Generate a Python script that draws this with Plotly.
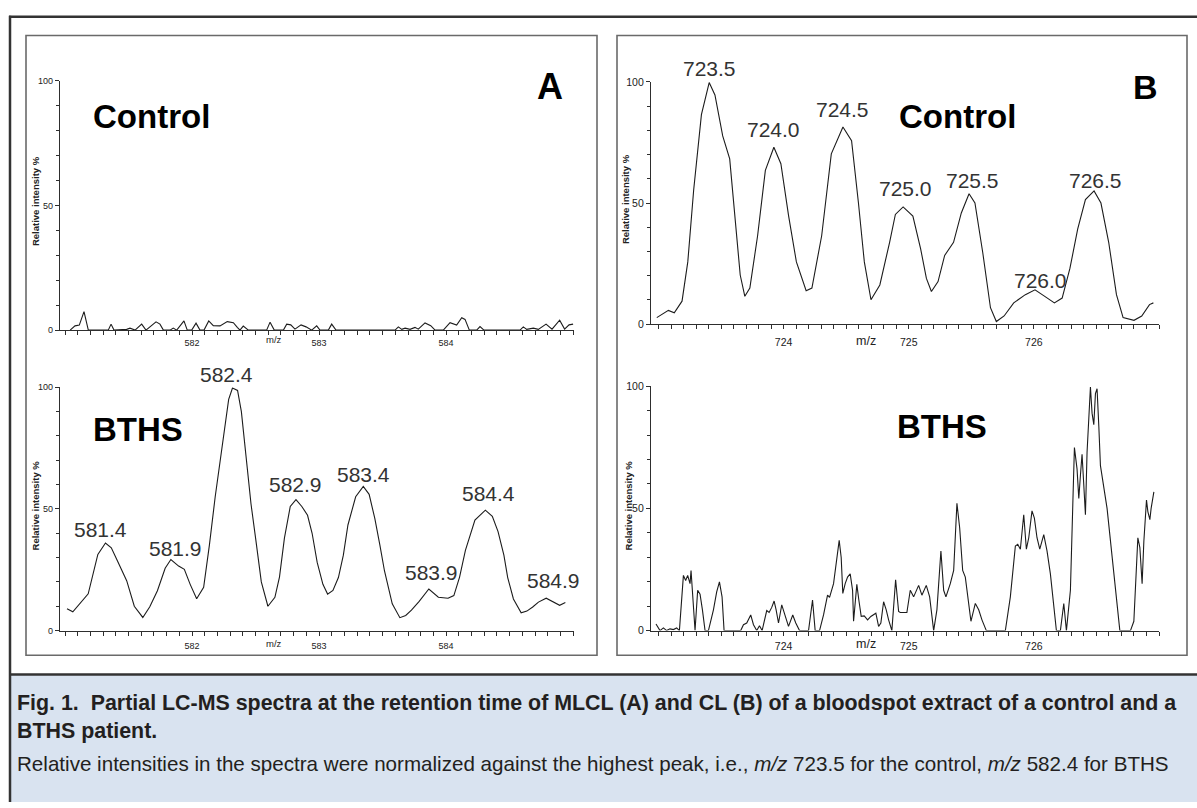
import plotly.graph_objects as go

W, H = 1197, 808

# ---- data ----
# panel A, control (MLCL), m/z and relative intensity %
a_ctrl_mz = [581.04, 581.078, 581.112, 581.149, 581.183, 581.340, 581.362, 581.385, 581.485, 581.511,
             581.551, 581.603, 581.637, 581.682, 581.716, 581.747, 581.774, 581.826, 581.852, 581.879,
             581.936, 581.962, 581.997, 582.031, 582.062, 582.094, 582.131, 582.167, 582.220, 582.277,
             582.325, 582.356, 582.377, 582.403, 582.443, 582.587, 582.614, 582.647, 582.719, 582.745,
             582.777, 582.810, 582.858, 582.897, 582.942, 582.981, 583.007, 583.073, 583.099, 583.133,
             583.598, 583.624, 583.651, 583.677, 583.716, 583.755, 583.781, 583.834, 583.879, 583.913,
             583.978, 584.031, 584.083, 584.123, 584.149, 584.183, 584.241, 584.267, 584.298, 584.582,
             584.608, 584.635, 584.687, 584.726, 584.787, 584.834, 584.894, 584.933, 584.968, 585.0]
a_ctrl_int = [0, 1.7, 2.0, 7.4, 0, 0, 2.4, 0, 0.3, 0.8,
              0, 2.4, 0, 1.7, 3.3, 2.4, 0, 0, 0.8, 0,
              3.7, 0, 0, 2.8, 0, 0, 3.7, 1.8, 1.7, 3.4,
              3.0, 1.1, 0, 1.6, 0, 0, 3.2, 0, 0, 2.4,
              2.1, 0.4, 2.1, 1.3, 0, 1.7, 0, 0, 2.4, 0,
              0, 1.3, 0.3, 0.8, 0.3, 1.1, 0.4, 2.9, 1.8, 0,
              0, 3.0, 2.0, 5.0, 4.3, 0, 0, 1.4, 0, 0,
              1.3, 0.3, 0.8, 0.3, 2.4, 0.4, 4.0, 0.4, 2.1, 2.4]

# panel A, BTHS
a_bths_mz = [581.015, 581.061, 581.182, 581.258, 581.318, 581.364, 581.409, 581.485, 581.545, 581.612,
             581.667, 581.727, 581.788, 581.833, 581.894, 581.939, 581.985, 582.036, 582.091, 582.136,
             582.182, 582.242, 582.288, 582.318, 582.358, 582.388, 582.424, 582.464, 582.500, 582.545,
             582.597, 582.652, 582.688, 582.727, 582.773, 582.818, 582.864, 582.909, 582.945, 582.985,
             583.030, 583.067, 583.109, 583.152, 583.191, 583.227, 583.288, 583.348, 583.394, 583.439,
             583.479, 583.515, 583.576, 583.636, 583.682, 583.727, 583.788, 583.864, 583.939, 584.015,
             584.061, 584.106, 584.152, 584.227, 584.309, 584.364, 584.409, 584.455, 584.485, 584.530,
             584.591, 584.636, 584.682, 584.727, 584.788, 584.833, 584.894, 584.939]
a_bths_int = [9.0, 7.7, 15.1, 31.3, 36.0, 34.0, 29.0, 20.5, 10.0, 5.4,
              9.8, 16.4, 25.6, 29.2, 26.5, 25.2, 19.0, 13.1, 17.8, 35.0,
              55.0, 78.0, 95.0, 99.7, 98.7, 90.0, 71.7, 52.0, 38.0, 20.0,
              10.0, 13.7, 22.0, 38.0, 51.0, 53.8, 51.0, 47.4, 40.0, 28.0,
              19.0, 15.0, 16.5, 21.8, 31.0, 43.4, 55.0, 59.2, 56.0, 46.0,
              35.0, 24.5, 11.0, 5.3, 6.2, 8.4, 12.0, 17.1, 13.7, 13.3,
              14.4, 22.0, 33.0, 45.4, 49.5, 47.0, 40.7, 31.0, 21.8, 13.0,
              7.3, 8.0, 9.7, 11.7, 13.3, 12.0, 10.4, 11.5]

# panel B, control (CL)
b_ctrl_mz = [722.986, 723.079, 723.126, 723.188, 723.234, 723.281, 723.343, 723.405, 723.451, 723.513,
             723.569, 723.612, 723.653, 723.690, 723.730, 723.792, 723.854, 723.922, 723.978, 724.040,
             724.102, 724.180, 724.226, 724.304, 724.381, 724.474, 724.543, 724.598, 724.645, 724.698,
             724.769, 724.847, 724.893, 724.955, 725.033, 725.095, 725.141, 725.181, 725.234, 725.287,
             725.358, 725.420, 725.482, 725.529, 725.591, 725.653, 725.700, 725.762, 725.839, 725.932,
             726.009, 726.087, 726.164, 726.226, 726.288, 726.350, 726.412, 726.481, 726.536, 726.598,
             726.660, 726.713, 726.800, 726.862, 726.924, 726.955]
b_ctrl_int = [2.7, 5.7, 4.7, 9.5, 25.7, 55.4, 86.5, 99.7, 94.6, 77.7,
              68.2, 44.6, 20.3, 11.5, 14.9, 36.5, 63.5, 73.0, 66.2, 44.6,
              25.7, 13.8, 14.9, 36.5, 70.3, 81.4, 75.7, 50.0, 25.7, 10.1,
              16.2, 33.8, 45.3, 48.4, 44.6, 31.1, 18.9, 13.5, 17.6, 28.4,
              33.8, 45.9, 53.8, 50.0, 29.7, 6.8, 1.1, 3.4, 8.8, 12.2,
              14.2, 11.5, 8.8, 10.8, 23.0, 39.2, 51.4, 55.0, 50.0, 33.8,
              12.2, 2.7, 1.6, 3.4, 8.1, 8.8]

# panel B, BTHS
b_bths_mz = [722.980, 723.012, 723.039, 723.065, 723.092, 723.119, 723.145, 723.167, 723.199, 723.217,
             723.233, 723.252, 723.260, 723.279, 723.292, 723.313, 723.332, 723.351, 723.372, 723.399,
             723.439, 723.465, 723.487, 723.508, 723.524, 723.657, 723.679, 723.705, 723.737, 723.759,
             723.785, 723.807, 723.828, 723.865, 723.884, 723.905, 723.924, 723.940, 723.959, 723.985,
             724.012, 724.039, 724.073, 724.097, 724.127, 724.199, 724.231, 724.252, 724.287, 724.319,
             724.351, 724.367, 724.399, 724.425, 724.444, 724.460, 724.473, 724.492, 724.511, 724.532,
             724.551, 724.559, 724.572, 724.585, 724.601, 724.620, 724.644, 724.671, 724.697, 724.737,
             724.759, 724.777, 724.799, 724.820, 724.839, 724.865, 724.895, 724.919, 724.932, 724.985,
             725.012, 725.039, 725.079, 725.105, 725.140, 725.167, 725.199, 725.225, 725.257, 725.279,
             725.297, 725.332, 725.359, 725.385, 725.407, 725.431, 725.452, 725.465, 725.497, 725.532,
             725.559, 725.585, 725.620, 725.772, 725.812, 725.852, 725.871, 725.892, 725.919, 725.940,
             725.959, 725.985, 726.004, 726.025, 726.047, 726.079, 726.105, 726.132, 726.180, 726.212,
             726.239, 726.260, 726.292, 726.311, 726.324, 726.345, 726.359, 726.372, 726.385, 726.399,
             726.412, 726.425, 726.439, 726.452, 726.465, 726.479, 726.492, 726.505, 726.519, 726.532,
             726.585, 726.639, 726.687, 726.772, 726.799, 726.831, 726.847, 726.865, 726.879, 726.900,
             726.911, 726.927, 726.937, 726.959]
b_bths_int = [2.7, 0, 1.1, 0, 0.7, 0.4, 1.1, 0, 22.6, 20.5,
              22.6, 19.2, 24.6, 11.8, 0, 16.5, 14.9, 8.5, 0, 0,
              8.5, 15.8, 19.9, 13.8, 0, 0, 2.4, 3.1, 6.4, 2.4,
              0, 2.0, 0, 8.2, 7.4, 9.5, 12.1, 8.5, 3.1, 10.5,
              6.4, 1.7, 6.4, 3.1, 0, 0, 12.5, 0, 0, 6.4,
              14.5, 13.6, 19.2, 28.6, 36.9, 29.9, 15.2, 19.2, 21.9, 23.2,
              16.5, 3.8, 13.2, 18.9, 12.5, 5.8, 6.0, 4.4, 5.8, 7.1,
              1.7, 3.1, 11.8, 8.5, 4.4, 0, 20.8, 7.8, 7.4, 7.4,
              16.5, 13.8, 18.5, 14.5, 18.5, 13.8, 0, 8.5, 32.6, 16.5,
              13.8, 19.2, 24.6, 52.1, 42.0, 24.6, 21.9, 16.5, 3.8, 11.1,
              8.5, 4.4, 0, 0, 13.8, 34.6, 35.3, 33.3, 47.4, 33.3,
              38.0, 49.0, 46.0, 38.0, 33.3, 39.3, 32.6, 23.2, 0, 0,
              11.1, 0, 16.5, 51.4, 74.9, 66.2, 54.1, 63.5, 72.2, 59.5,
              47.4, 72.9, 86.3, 99.7, 89.0, 84.3, 97.0, 99.0, 83.6, 67.5,
              50.0, 24.6, 0, 0, 3.8, 38.0, 34.0, 19.2, 36.6, 53.4,
              48.7, 45.4, 50.0, 56.8]

# peak labels
a_peak_text = ["581.4", "581.9", "582.4", "582.9", "583.4", "583.9", "584.4", "584.9"]
a_peak_x = [581.279, 581.870, 582.273, 582.818, 583.348, 583.885, 584.333, 584.848]
a_peak_y = [41.4, 33.6, 105.4, 60.2, 64.3, 23.9, 56.2, 20.5]

b_peak_text = ["723.5", "724.0", "724.5", "725.0", "725.5", "726.0", "726.5"]
b_peak_x = [723.405, 723.916, 724.474, 724.971, 725.513, 726.056, 726.490]
b_peak_y = [105.4, 80.4, 88.5, 56.1, 59.5, 18.2, 59.5]

a_xticks = [582, 583, 584]
b_xticks = [724, 725, 726]
y_ticks = [0, 50, 100]

caption_title = ("<b>Fig. 1.  Partial LC-MS spectra at the retention time of MLCL (A) and CL (B) "
                 "of a bloodspot extract of a control and a</b>")
caption_title2 = "<b>BTHS patient.</b>"
caption_body = ("Relative intensities in the spectra were normalized against the highest peak, i.e., "
                "<i>m/z</i> 723.5 for the control, <i>m/z</i> 582.4 for BTHS")


def fx(p):
    return p / W


def fy(p):
    return 1 - p / H


INK = "#1c1c1c"
AX = "#2e2e2e"

# (suffix, x0px, x1px, y of 0, y of 100, x range, tick values, tick font, label standoff)
panels = [
    ("", 60, 574, 329, 76, [580.96, 585.007], a_xticks, 9, 0),
    ("2", 60, 574, 634, 387, [580.96, 585.007], a_xticks, 9, 2),
    ("3", 651, 1159, 323, 77, [722.94, 727.0], b_xticks, 10.5, 4),
    ("4", 651, 1159, 634, 386, [722.94, 727.0], b_xticks, 10.5, 2),
]

fig = go.Figure()

traces = [(a_ctrl_mz, a_ctrl_int), (a_bths_mz, a_bths_int),
          (b_ctrl_mz, b_ctrl_int), (b_bths_mz, b_bths_int)]

layout = {}
for (sfx, x0, x1, y0, y1, xr, xt, fs, so), (mz, inten) in zip(panels, traces):
    fig.add_trace(go.Scatter(x=mz, y=inten, mode="lines", line=dict(color=INK, width=1.1),
                             xaxis="x" + sfx, yaxis="y" + sfx, hoverinfo="skip"))
    layout["xaxis" + sfx] = dict(
        domain=[fx(x0), fx(x1)], range=xr, anchor="y" + sfx,
        showline=True, linecolor=AX, linewidth=1.3, showgrid=False, zeroline=False,
        tickvals=xt, ticks="outside", ticklen=4, tickcolor=AX, tickwidth=1,
        tickfont=dict(family="Arial", size=fs, color="#222"), ticklabelstandoff=so,
        minor=dict(dtick=0.1, tick0=xt[0], ticks="outside", ticklen=4, tickcolor=AX, showgrid=False),
    )
    layout["yaxis" + sfx] = dict(
        domain=[fy(y0), fy(y1)], range=[0, 100], anchor="x" + sfx,
        showline=True, linecolor=AX, linewidth=1.3, showgrid=False, zeroline=False,
        tickvals=y_ticks, ticks="outside", ticklen=4, tickcolor=AX,
        tickfont=dict(family="Arial", size=fs, color="#222"),
        minor=dict(dtick=10, ticks="outside", ticklen=3, tickcolor=AX, showgrid=False),
    )

fig.update_layout(**layout)

ann = []
peak_font = dict(family="Arial", size=21, color="#333")
# y given as a fraction of the y-domain so labels above 100 % are still drawn
for t, x, y in zip(a_peak_text, a_peak_x, a_peak_y):
    ann.append(dict(x=x, y=y / 100, xref="x2", yref="y2 domain", text=t, showarrow=False,
                    yanchor="middle", font=peak_font))
for t, x, y in zip(b_peak_text, b_peak_x, b_peak_y):
    ann.append(dict(x=x, y=y / 100, xref="x3", yref="y3 domain", text=t, showarrow=False,
                    yanchor="middle", font=peak_font))

big = dict(family="Arial", size=33, color="#000")
ann += [
    dict(x=581.684, y=85.8, xref="x", yref="y", text="<b>Control</b>", showarrow=False, font=big),
    dict(x=584.82, y=97.6, xref="x", yref="y", text="<b>A</b>", showarrow=False,
         font=dict(family="Arial", size=36, color="#000")),
    dict(x=581.576, y=82.5, xref="x2", yref="y2", text="<b>BTHS</b>", showarrow=False, font=big),
    dict(x=725.389, y=85.8, xref="x3", yref="y3", text="<b>Control</b>", showarrow=False, font=big),
    dict(x=726.89, y=98, xref="x3", yref="y3", text="<b>B</b>", showarrow=False,
         font=dict(family="Arial", size=34, color="#000")),
    dict(x=725.265, y=83.4, xref="x4", yref="y4", text="<b>BTHS</b>", showarrow=False, font=big),
]

# "m/z" labels and y titles
for xr_, x, ypx, fs in [("x", 582.645, 339, 9.5), ("x2", 582.645, 647, 9.5),
                        ("x3", 724.66, 340, 12.5), ("x4", 724.66, 648, 12.5)]:
    ann.append(dict(x=x, xref=xr_, y=fy(ypx), yref="paper", yanchor="middle", text="m/z",
                    showarrow=False, font=dict(family="Arial", size=fs, color="#222")))
for xpx, ypx in [(35, 198), (35, 507), (625, 196), (628, 507)]:
    ann.append(dict(x=fx(xpx), y=fy(ypx), xref="paper", yref="paper", xanchor="center",
                    yanchor="middle", text="<b>Relative intensity %</b>", textangle=-90,
                    showarrow=False, font=dict(family="Arial", size=9.5, color="#222")))

ann += [
    dict(x=fx(15), y=fy(707), xref="paper", yref="paper", xanchor="left", yanchor="middle",
         text=caption_title, showarrow=False, font=dict(family="Arial", size=21.4, color="#231f20")),
    dict(x=fx(15), y=fy(736), xref="paper", yref="paper", xanchor="left", yanchor="middle",
         text=caption_title2, showarrow=False, font=dict(family="Arial", size=21.4, color="#231f20")),
    dict(x=fx(15), y=fy(769), xref="paper", yref="paper", xanchor="left", yanchor="middle",
         text=caption_body, showarrow=False, font=dict(family="Arial", size=20.6, color="#231f20")),
]

shapes = [
    # caption background
    dict(type="rect", xref="paper", yref="paper", x0=fx(10), x1=1, y0=0, y1=fy(679),
         fillcolor="#d9e3f0", line=dict(width=0), layer="below"),
    dict(type="line", xref="paper", yref="paper", x0=fx(10), x1=1, y0=fy(678.5), y1=fy(678.5),
         line=dict(color="#333", width=2.5)),
    # outer frame
    dict(type="line", xref="paper", yref="paper", x0=fx(10), x1=fx(10), y0=0, y1=fy(10),
         line=dict(color="#333", width=2.5)),
    dict(type="line", xref="paper", yref="paper", x0=fx(9), x1=1, y0=fy(11), y1=fy(11),
         line=dict(color="#333", width=2.5)),
    # panel boxes
    dict(type="rect", xref="paper", yref="paper", x0=fx(26), x1=fx(597), y0=fy(659), y1=fy(30),
         line=dict(color="#6a6a6a", width=1.6)),
    dict(type="rect", xref="paper", yref="paper", x0=fx(617), x1=fx(1187), y0=fy(659), y1=fy(30),
         line=dict(color="#6a6a6a", width=1.6)),
]

fig.update_layout(width=W, height=H, margin=dict(l=0, r=0, t=0, b=0),
                  paper_bgcolor="white", plot_bgcolor="rgba(0,0,0,0)",
                  showlegend=False, annotations=ann, shapes=shapes)

# page body margin would push the 1197x808 figure off the window
fig.write_html("out.html", config={"displayModeBar": False},
               post_script="document.body.style.margin='0px';")
